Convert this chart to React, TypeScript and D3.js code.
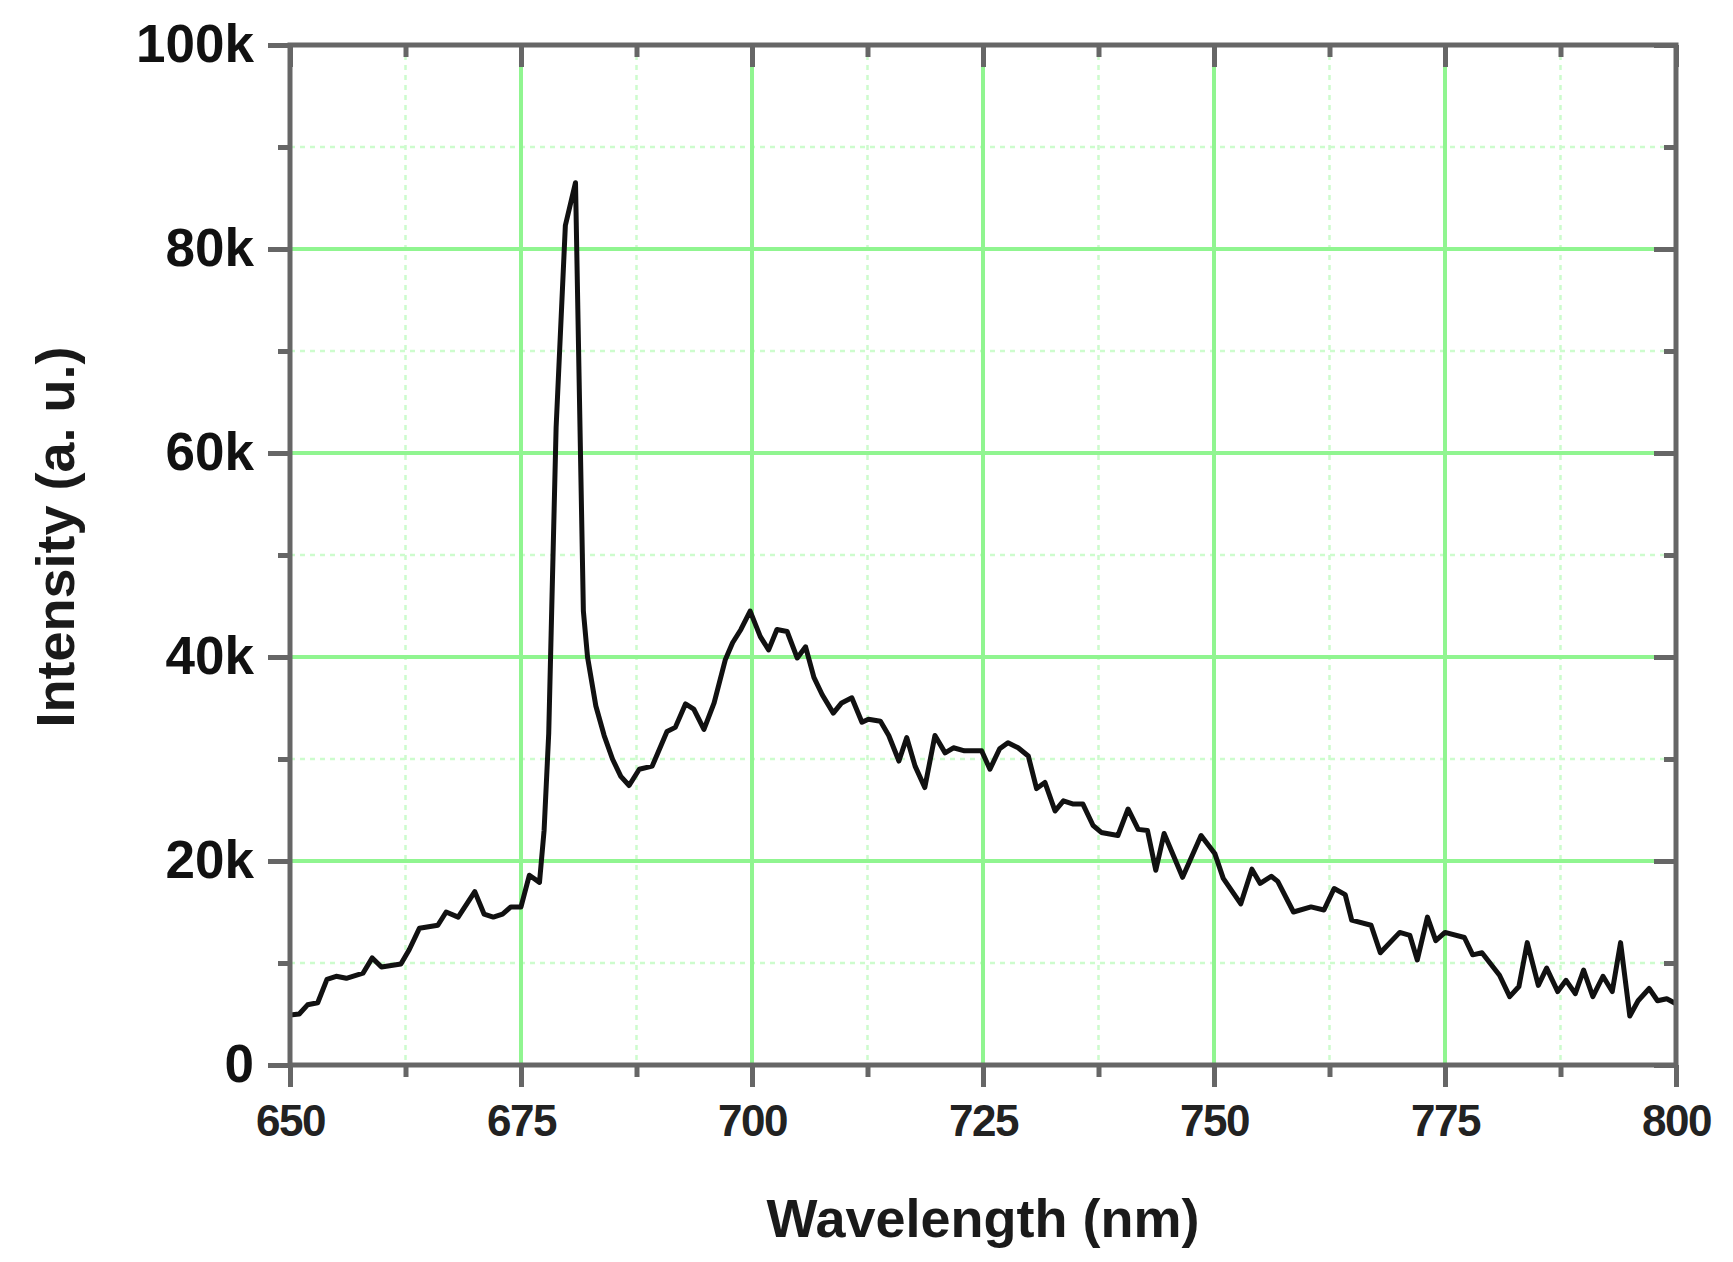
import React, { useEffect, useRef } from 'react';
import * as d3 from 'd3';

// spectrum (nm, counts)
const wavelengths = [
  650.0, 651.0, 651.9, 653.0, 654.0, 655.0, 656.1, 657.9, 658.9, 659.9,
  662.0, 662.9, 664.0, 666.0, 666.9, 668.2, 670.0, 671.0, 672.0, 673.0,
  673.9, 675.0, 675.9, 677.0, 677.5, 678.0, 678.8, 679.8, 680.9, 681.75,
  682.2, 683.1, 684.0, 684.9, 685.8, 686.7, 687.8, 689.2, 690.8, 691.7,
  692.8, 693.7, 694.8, 695.9, 697.1, 697.9, 698.8, 699.8, 700.9, 701.8,
  702.7, 703.8, 704.9, 705.8, 706.7, 707.6, 708.8, 709.7, 710.8, 711.9,
  712.6, 713.9, 714.8, 715.9, 716.75, 717.65, 718.7, 719.8, 720.9, 721.8,
  723.0, 724.85, 725.75, 726.8, 727.7, 728.8, 729.9, 730.8, 731.7, 732.8,
  733.7, 734.7, 735.8, 736.9, 737.8, 739.6, 740.7, 741.8, 742.8, 743.7,
  744.6, 746.6, 748.6, 750.1, 751.0, 752.9, 754.1, 755.0, 756.2, 756.9,
  758.6, 760.5, 761.9, 763.0, 764.2, 764.9, 767.0, 768.0, 770.1, 771.2,
  772.0, 773.1, 774.0, 775.0, 777.1, 778.0, 779.0, 780.9, 782.0, 783.0,
  783.9, 785.1, 786.0, 787.2, 788.1, 789.1, 790.0, 791.0, 792.1, 793.1,
  794.0, 795.0, 795.9, 797.1, 798.0, 799.0, 800.0,
];

const intensities = [
  4900, 5000, 5900, 6100, 8400, 8700, 8500, 9000, 10500, 9600,
  9900, 11300, 13400, 13700, 15000, 14500, 17000, 14800, 14500, 14800,
  15500, 15500, 18600, 17900, 23000, 32500, 62500, 82300, 86500, 44500,
  40000, 35200, 32300, 30000, 28300, 27400, 29000, 29300, 32700, 33100,
  35400, 34900, 32900, 35500, 39700, 41400, 42700, 44500, 42000, 40700,
  42700, 42500, 39900, 41000, 38000, 36300, 34500, 35500, 36000, 33600,
  33900, 33700, 32300, 29800, 32100, 29300, 27200, 32300, 30600, 31100,
  30800, 30800, 29000, 31000, 31600, 31100, 30300, 27100, 27700, 24900,
  25900, 25600, 25600, 23500, 22800, 22500, 25100, 23100, 23000, 19100,
  22700, 18400, 22500, 20700, 18300, 15800, 19200, 17800, 18500, 18000,
  15000, 15500, 15200, 17300, 16700, 14200, 13700, 11000, 13000, 12700,
  10300, 14500, 12200, 13000, 12500, 10800, 11000, 8800, 6700, 7700,
  12000, 7800, 9500, 7200, 8300, 7000, 9300, 6700, 8700, 7200,
  12000, 4800, 6300, 7500, 6300, 6500, 6000,
];

const xTicks = [650, 675, 700, 725, 750, 775, 800];
const xMinorTicks = [662.5, 687.5, 712.5, 737.5, 762.5, 787.5];
const yTicks = [0, 20000, 40000, 60000, 80000, 100000];
const yMinorTicks = [10000, 30000, 50000, 70000, 90000];

const W = 1733;
const H = 1262;
const margin = { left: 290, top: 45, right: 57, bottom: 197 };

const App: React.FC = () => {
  const svgRef = useRef<SVGSVGElement>(null);

  useEffect(() => {
    if (!svgRef.current) return;
    const root = d3.select(svgRef.current);
    root.selectAll('*').remove();

    const iw = W - margin.left - margin.right;
    const ih = H - margin.top - margin.bottom;

    const x = d3.scaleLinear().domain([650, 800]).range([0, iw]);
    const y = d3.scaleLinear().domain([0, 100000]).range([ih, 0]);

    const g = root.append('g').attr('transform', `translate(${margin.left},${margin.top})`);

    // minor grid (dotted)
    xMinorTicks.forEach(t => {
      g.append('line')
        .attr('x1', x(t)).attr('x2', x(t)).attr('y1', 0).attr('y2', ih)
        .style('stroke', '#cdfccd').style('stroke-width', 2.5).style('stroke-dasharray', '5,5');
    });
    yMinorTicks.forEach(t => {
      g.append('line')
        .attr('x1', 0).attr('x2', iw).attr('y1', y(t)).attr('y2', y(t))
        .style('stroke', '#cdfccd').style('stroke-width', 2.5).style('stroke-dasharray', '5,5');
    });

    // major grid
    xTicks.slice(1, -1).forEach(t => {
      g.append('line')
        .attr('x1', x(t)).attr('x2', x(t)).attr('y1', 0).attr('y2', ih)
        .style('stroke', '#90f590').style('stroke-width', 4);
    });
    yTicks.slice(1, -1).forEach(t => {
      g.append('line')
        .attr('x1', 0).attr('x2', iw).attr('y1', y(t)).attr('y2', y(t))
        .style('stroke', '#90f590').style('stroke-width', 4);
    });

    // spectrum
    const pts = wavelengths.map((w, i) => [w, intensities[i]] as [number, number]);
    const line = d3.line<[number, number]>()
      .x(d => x(d[0]))
      .y(d => y(d[1]));

    g.append('path')
      .datum(pts)
      .attr('d', line)
      .style('fill', 'none')
      .style('stroke', '#111')
      .style('stroke-width', 5)
      .style('stroke-linejoin', 'round');

    const fmt = (d: d3.NumberValue) => (+d === 0 ? '0' : `${+d / 1000}k`);
    const axisColor = '#666';

    const styleAxis = (sel: d3.Selection<SVGGElement, unknown, null, undefined>) => {
      sel.select('.domain').remove();
      sel.selectAll('line').style('stroke', axisColor).style('stroke-width', 5);
    };

    // left
    g.append('g').call(d3.axisLeft(y).tickValues(yMinorTicks).tickSize(12).tickFormat(() => '')).call(styleAxis);
    const left = g.append('g').call(d3.axisLeft(y).tickValues(yTicks).tickSize(22).tickPadding(14).tickFormat(fmt));
    left.call(styleAxis);
    left.selectAll('text')
      .style('font-family', '"Liberation Sans", Arial, sans-serif')
      .style('font-weight', 'bold')
      .style('font-size', '53px')
      .style('fill', '#111');

    // bottom
    g.append('g').attr('transform', `translate(0,${ih})`)
      .call(d3.axisBottom(x).tickValues(xMinorTicks).tickSize(12).tickFormat(() => '')).call(styleAxis);
    const bottom = g.append('g').attr('transform', `translate(0,${ih})`)
      .call(d3.axisBottom(x).tickValues(xTicks).tickSize(22).tickPadding(18).tickFormat(d => `${d}`));
    bottom.call(styleAxis);
    bottom.selectAll('text')
      .style('font-family', '"Liberation Sans", Arial, sans-serif')
      .style('font-weight', 'bold')
      .style('font-size', '44px')
      .style('letter-spacing', '-1.5px')
      .style('fill', '#222');

    // top and right, ticks inward
    g.append('g').call(d3.axisTop(x).tickValues(xMinorTicks).tickSize(-12).tickFormat(() => '')).call(styleAxis);
    g.append('g').call(d3.axisTop(x).tickValues(xTicks).tickSize(-22).tickFormat(() => '')).call(styleAxis);
    g.append('g').attr('transform', `translate(${iw},0)`)
      .call(d3.axisRight(y).tickValues(yMinorTicks).tickSize(-12).tickFormat(() => '')).call(styleAxis);
    g.append('g').attr('transform', `translate(${iw},0)`)
      .call(d3.axisRight(y).tickValues(yTicks).tickSize(-22).tickFormat(() => '')).call(styleAxis);

    // frame
    g.append('rect')
      .attr('x', 0).attr('y', 0).attr('width', iw).attr('height', ih)
      .style('fill', 'none').style('stroke', axisColor).style('stroke-width', 5);

    // axis titles
    g.append('text')
      .attr('x', iw / 2)
      .attr('y', 1237 - margin.top)
      .attr('text-anchor', 'middle')
      .style('font-family', '"Liberation Sans", Arial, sans-serif')
      .style('font-weight', 'bold')
      .style('font-size', '54px')
      .style('fill', '#1a1a1a')
      .text('Wavelength (nm)');

    root.append('text')
      .attr('transform', `translate(74,537) rotate(-90)`)
      .attr('text-anchor', 'middle')
      .style('font-family', '"Liberation Sans", Arial, sans-serif')
      .style('font-weight', 'bold')
      .style('font-size', '54px')
      .style('fill', '#1a1a1a')
      .text('Intensity (a. u.)');
  }, []);

  return (
    <div style={{ position: 'absolute', left: 0, top: 0, background: '#fff' }}>
      <svg ref={svgRef} width={W} height={H}></svg>
    </div>
  );
};

export default App;
